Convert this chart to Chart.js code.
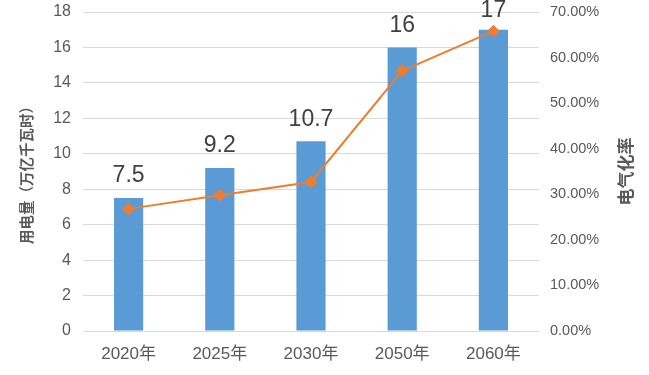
<!DOCTYPE html>
<html><head><meta charset="utf-8">
<script src="https://cdn.jsdelivr.net/npm/chart.js@4/dist/chart.umd.min.js"></script>
<style>html,body{margin:0;padding:0;background:#fff}#wrap{width:649px;height:375px}</style>
</head><body><div id="wrap"><canvas id="c" width="649" height="375"></canvas></div>
<script>
const categories = ['2020年','2025年','2030年','2050年','2060年'];
const electricity = [7.5, 9.2, 10.7, 16, 17];
const electrificationRate = [26.8, 29.8, 32.7, 57.1, 65.8];
const leftTitle = '用电量（万亿千瓦时）';
const rightTitle = '电气化率';

const FONT = '"Liberation Sans", Arial, "Noto Sans CJK SC", sans-serif';

const labelPlugin = {
  id: 'labels',
  afterDatasetsDraw(chart) {
    const ctx = chart.ctx;
    const meta = chart.getDatasetMeta(1);
    ctx.save();
    ctx.font = '23px ' + FONT;
    ctx.fillStyle = '#404040';
    ctx.textAlign = 'center';
    ctx.textBaseline = 'middle';
    meta.data.forEach((el, i) => {
      ctx.fillText(String(electricity[i]), el.x, Math.max(el.y - 22, 11));
    });
    ctx.restore();
  },
  afterDraw(chart) {
    const ctx = chart.ctx;
    const a = chart.chartArea;
    ctx.save();
    ctx.translate(627, (a.top + a.bottom) / 2);
    ctx.rotate(-Math.PI / 2);
    ctx.font = 'bold 17px ' + FONT;
    ctx.fillStyle = '#595959';
    ctx.textAlign = 'center';
    ctx.textBaseline = 'middle';
    ctx.fillText(rightTitle, 0, 0);
    ctx.restore();
  }
};

new Chart(document.getElementById('c'), {
  data: {
    labels: categories,
    datasets: [
      { type: 'line', data: electrificationRate, yAxisID: 'y1', order: 0,
        borderColor: '#ED7D31', backgroundColor: '#ED7D31', borderWidth: 2,
        pointStyle: 'rectRot', pointRadius: 5, pointHoverRadius: 5, tension: 0 },
      { type: 'bar', data: electricity, yAxisID: 'y', order: 1,
        backgroundColor: '#5B9BD5', barPercentage: 0.64, categoryPercentage: 0.5 }
    ]
  },
  options: {
    responsive: false,
    animation: false,
    layout: { padding: { top: 12, left: 0, right: 0, bottom: 0 } },
    plugins: { legend: { display: false }, tooltip: { enabled: false } },
    scales: {
      x: {
        grid: { display: false, drawTicks: false },
        border: { display: false },
        ticks: { color: '#595959', font: { family: FONT, size: 17 }, padding: 13, maxRotation: 0 },
        afterFit(s) { s.height = 44; }
      },
      y: {
        position: 'left', min: 0, max: 18,
        ticks: { stepSize: 2, color: '#595959', font: { family: FONT, size: 16 }, padding: 0 },
        grid: { color: '#d9d9d9', drawTicks: true, tickLength: 12, tickColor: 'rgba(0,0,0,0)' },
        border: { display: false },
        title: { display: true, text: leftTitle, color: '#595959', font: { family: FONT, size: 14.5, weight: 'bold' }, padding: { top: 19, bottom: 0 } },
        afterFit(s) { s.width = 83; }
      },
      y1: {
        position: 'right', min: 0, max: 70,
        ticks: { stepSize: 10, color: '#595959', font: { family: FONT, size: 14.5 }, padding: 0,
          callback: v => v.toFixed(2) + '%' },
        grid: { display: true, drawOnChartArea: false, drawTicks: true, tickLength: 11, color: 'rgba(0,0,0,0)', tickColor: 'rgba(0,0,0,0)' },
        border: { display: false },
        afterFit(s) { s.width = 110; }
      }
    }
  },
  plugins: [labelPlugin]
});
</script></body></html>
